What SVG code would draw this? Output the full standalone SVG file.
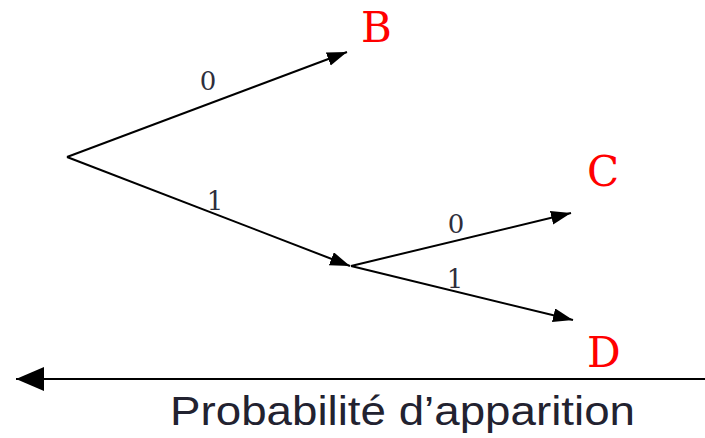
<svg xmlns="http://www.w3.org/2000/svg" width="705" height="438" viewBox="0 0 705 438">
<style>
.edge{stroke:#000;stroke-width:2;fill:none}
.lbl{font-family:"DejaVu Serif","Liberation Serif",serif;font-size:26px;fill:#2e2e3c;text-anchor:middle}
.leaf{font-family:"DejaVu Serif","Liberation Serif",serif;font-size:42px;fill:#ff0000}
.axis{font-family:"Liberation Sans","DejaVu Sans",sans-serif;font-size:40px;fill:#222230}
</style>
<defs>
<marker id="ah" markerUnits="userSpaceOnUse" markerWidth="22" markerHeight="16" refX="20" refY="7" orient="auto">
<path d="M0,0 L20,7 L0,14 z" fill="#000"/>
</marker>
<marker id="ahBig" markerUnits="userSpaceOnUse" markerWidth="30" markerHeight="26" refX="28" refY="12" orient="auto">
<path d="M0,0 L28,12 L0,24 z" fill="#000"/>
</marker>
</defs>
<g id="connectors">
<line class="edge" x1="67" y1="157" x2="347" y2="52" marker-end="url(#ah)"/>
<line class="edge" x1="67" y1="157" x2="350" y2="266" marker-end="url(#ah)"/>
<line class="edge" x1="351" y1="266" x2="571" y2="213" marker-end="url(#ah)"/>
<line class="edge" x1="351" y1="266" x2="573" y2="320" marker-end="url(#ah)"/>
<text class="lbl" x="208" y="90">0</text>
<text class="lbl" x="215" y="210">1</text>
<text class="lbl" x="456" y="233">0</text>
<text class="lbl" x="455" y="288">1</text>
</g>
<g id="B"><text class="leaf" x="361" y="42">B</text></g>
<g id="C"><text class="leaf" x="587" y="186">C</text></g>
<g id="D"><text class="leaf" x="587" y="367">D</text></g>
<g id="axis">
<line class="edge" x1="705" y1="379" x2="16" y2="379" marker-end="url(#ahBig)"/>
<text class="axis" x="170" y="425" textLength="465" lengthAdjust="spacingAndGlyphs">Probabilité d’apparition</text>
</g>
</svg>
